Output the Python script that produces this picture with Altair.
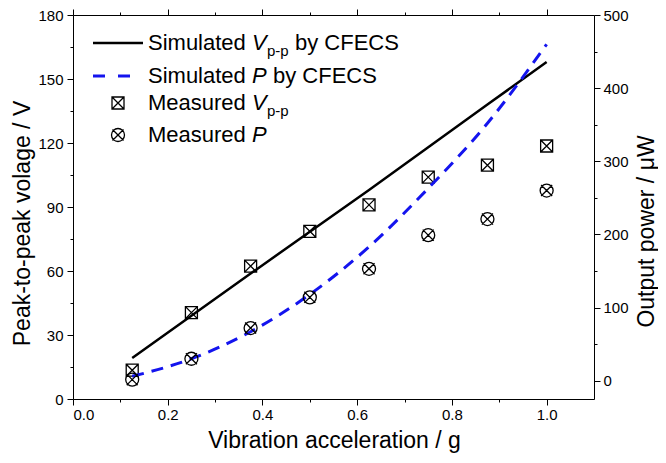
import altair as alt
import pandas as pd

# ---- data ----
accel = [0.125, 0.25, 0.375, 0.5, 0.625, 0.75, 0.875, 1.0]
sim_vpp = [19.2, 39.0, 58.8, 78.4, 98.0, 118.0, 138.0, 158.0]
sim_power = [6.0, 30.0, 67.0, 118.0, 183.0, 263.0, 352.0, 460.0]
meas_vpp = [13.5, 40.5, 62.3, 78.6, 91.0, 104.0, 109.6, 118.6]
meas_power = [1.5, 30.0, 72.0, 114.0, 153.0, 199.0, 221.0, 260.0]

x_major = [0.0, 0.2, 0.4, 0.6, 0.8, 1.0]
x_minor = [0.1, 0.3, 0.5, 0.7, 0.9]
vpp_major = [0, 30, 60, 90, 120, 150, 180]
vpp_minor = [15, 45, 75, 105, 135, 165]
pow_major = [0, 100, 200, 300, 400, 500]
pow_minor = [50, 150, 250, 350, 450]

df = pd.DataFrame({"a": accel, "sv": sim_vpp, "sp": sim_power,
                   "mv": meas_vpp, "mp": meas_power})

FONT = "Liberation Sans"
W, H = 521, 384
BLUE = "#1414ee"
TFS = 23

xs = alt.Scale(domain=[0, 1.1], nice=False, zero=False)
ys_left = alt.Scale(domain=[0, 180], nice=False, zero=False)
ys_right = alt.Scale(domain=[-25, 500], nice=False, zero=False)

SQX = "M-1,-1L1,-1L1,1L-1,1Z M-1,-1L1,1 M1,-1L-1,1"
CIRX = "M1,0A1,1,0,1,1,-1,0A1,1,0,1,1,1,0Z M-0.85,-0.85L0.85,0.85 M0.85,-0.85L-0.85,0.85"


def minor_axis(orient, values):
    return alt.Axis(orient=orient, values=values, labels=False, domain=False,
                    grid=False, ticks=True, tickSize=3, tickColor="black",
                    tickWidth=1, title=None)


base = alt.Chart(df)

x_bottom = alt.Axis(orient="bottom", values=x_major, format=".1f", grid=False,
                    tickSize=6, tickColor="black", domainColor="black",
                    labelFont=FONT, labelFontSize=15, labelColor="black",
                    labelPadding=2,
                    title="Vibration acceleration / g", titleFont=FONT,
                    titleFontSize=TFS, titleFontWeight="normal",
                    titleColor="black", titleX=261, titleY=48,
                    titleBaseline="alphabetic")
y_left = alt.Axis(orient="left", values=vpp_major, grid=False, tickSize=6,
                  tickColor="black", domainColor="black",
                  labelFont=FONT, labelFontSize=15, labelColor="black",
                  labelPadding=4,
                  title="Peak-to-peak volage / V", titleFont=FONT,
                  titleFontSize=TFS, titleFontWeight="normal",
                  titleColor="black", titleAngle=270, titleX=-39, titleY=208,
                  titleBaseline="bottom", titleAlign="center")
x_top = alt.Axis(orient="top", values=x_major, labels=False, grid=False,
                 tickSize=6, tickColor="black", domainColor="black",
                 title=None)
y_right = alt.Axis(orient="right", values=pow_major, grid=False, tickSize=6,
                   tickColor="black", domainColor="black",
                   labelFont=FONT, labelFontSize=15, labelColor="black",
                   labelPadding=3,
                   title="Output power / \u03bcW", titleFont=FONT,
                   titleFontSize=TFS, titleFontWeight="normal",
                   titleColor="black", titleAngle=270, titleX=41, titleY=216,
                   titleBaseline="top", titleAlign="center")

sim_v_line = base.mark_line(color="black", strokeWidth=2.5).encode(
    x=alt.X("a:Q", scale=xs, axis=x_bottom),
    y=alt.Y("sv:Q", scale=ys_left, axis=y_left),
)
meas_v_pts = base.mark_point(shape=SQX, size=144, filled=False, color="black",
                             strokeWidth=1.3, opacity=1).encode(
    x=alt.X("a:Q", scale=xs, axis=minor_axis("bottom", x_minor)),
    y=alt.Y("mv:Q", scale=ys_left, axis=minor_axis("left", vpp_minor)),
)
sim_p_line = base.mark_line(color=BLUE, strokeWidth=3, strokeDash=[12, 8],
                            interpolate="monotone").encode(
    x=alt.X("a:Q", scale=xs, axis=x_top),
    y=alt.Y("sp:Q", scale=ys_right, axis=y_right),
)
meas_p_pts = base.mark_point(shape=CIRX, size=169, filled=False, color="black",
                             strokeWidth=1.3, opacity=1).encode(
    x=alt.X("a:Q", scale=xs, axis=minor_axis("top", x_minor)),
    y=alt.Y("mp:Q", scale=ys_right, axis=minor_axis("right", pow_minor)),
)

one = pd.DataFrame({"k": [0]})


def txt(x, y, s, size=22, style="normal"):
    return alt.Chart(one).mark_text(
        align="left", baseline="alphabetic", fontSize=size, font=FONT,
        fontStyle=style, color="black").encode(
        x=alt.value(x), y=alt.value(y), text=alt.value(s))


lx = 75
rows = [35, 68, 95, 127]
vx = lx + 104
legend = [
    alt.Chart(one).mark_rule(color="black", strokeWidth=2.5).encode(
        x=alt.value(20), x2=alt.value(70), y=alt.value(28)),
    alt.Chart(one).mark_rule(color=BLUE, strokeWidth=3, strokeDash=[12, 13]).encode(
        x=alt.value(20), x2=alt.value(57), y=alt.value(61)),
    alt.Chart(one).mark_point(shape=SQX, size=144, filled=False, color="black",
                              strokeWidth=1.3, opacity=1).encode(
        x=alt.value(45), y=alt.value(88)),
    alt.Chart(one).mark_point(shape=CIRX, size=169, filled=False, color="black",
                              strokeWidth=1.3, opacity=1).encode(
        x=alt.value(45), y=alt.value(120)),
    txt(lx, rows[0], "Simulated"),
    txt(vx, rows[0], "V", style="italic"),
    txt(vx + 15, rows[0] + 6, "p-p", size=15),
    txt(vx + 43, rows[0], "by CFECS"),
    txt(lx, rows[1], "Simulated"),
    txt(vx, rows[1], "P", style="italic"),
    txt(vx + 21, rows[1], "by CFECS"),
    txt(lx, rows[2], "Measured"),
    txt(vx, rows[2], "V", style="italic"),
    txt(vx + 15, rows[2] + 6, "p-p", size=15),
    txt(lx, rows[3], "Measured"),
    txt(vx, rows[3], "P", style="italic"),
]

chart = alt.layer(sim_v_line, meas_v_pts, sim_p_line, meas_p_pts, *legend).resolve_scale(
    y="independent"
).resolve_axis(
    x="independent", y="independent"
).properties(
    width=W, height=H,
    autosize=alt.AutoSizeParams(type="none"),
    padding={"left": 65, "top": 7, "right": 64, "bottom": 54},
).configure_view(stroke="black", strokeWidth=1).configure(background="white")

chart.save("out.html", embed_options={"renderer": "svg", "actions": False})
